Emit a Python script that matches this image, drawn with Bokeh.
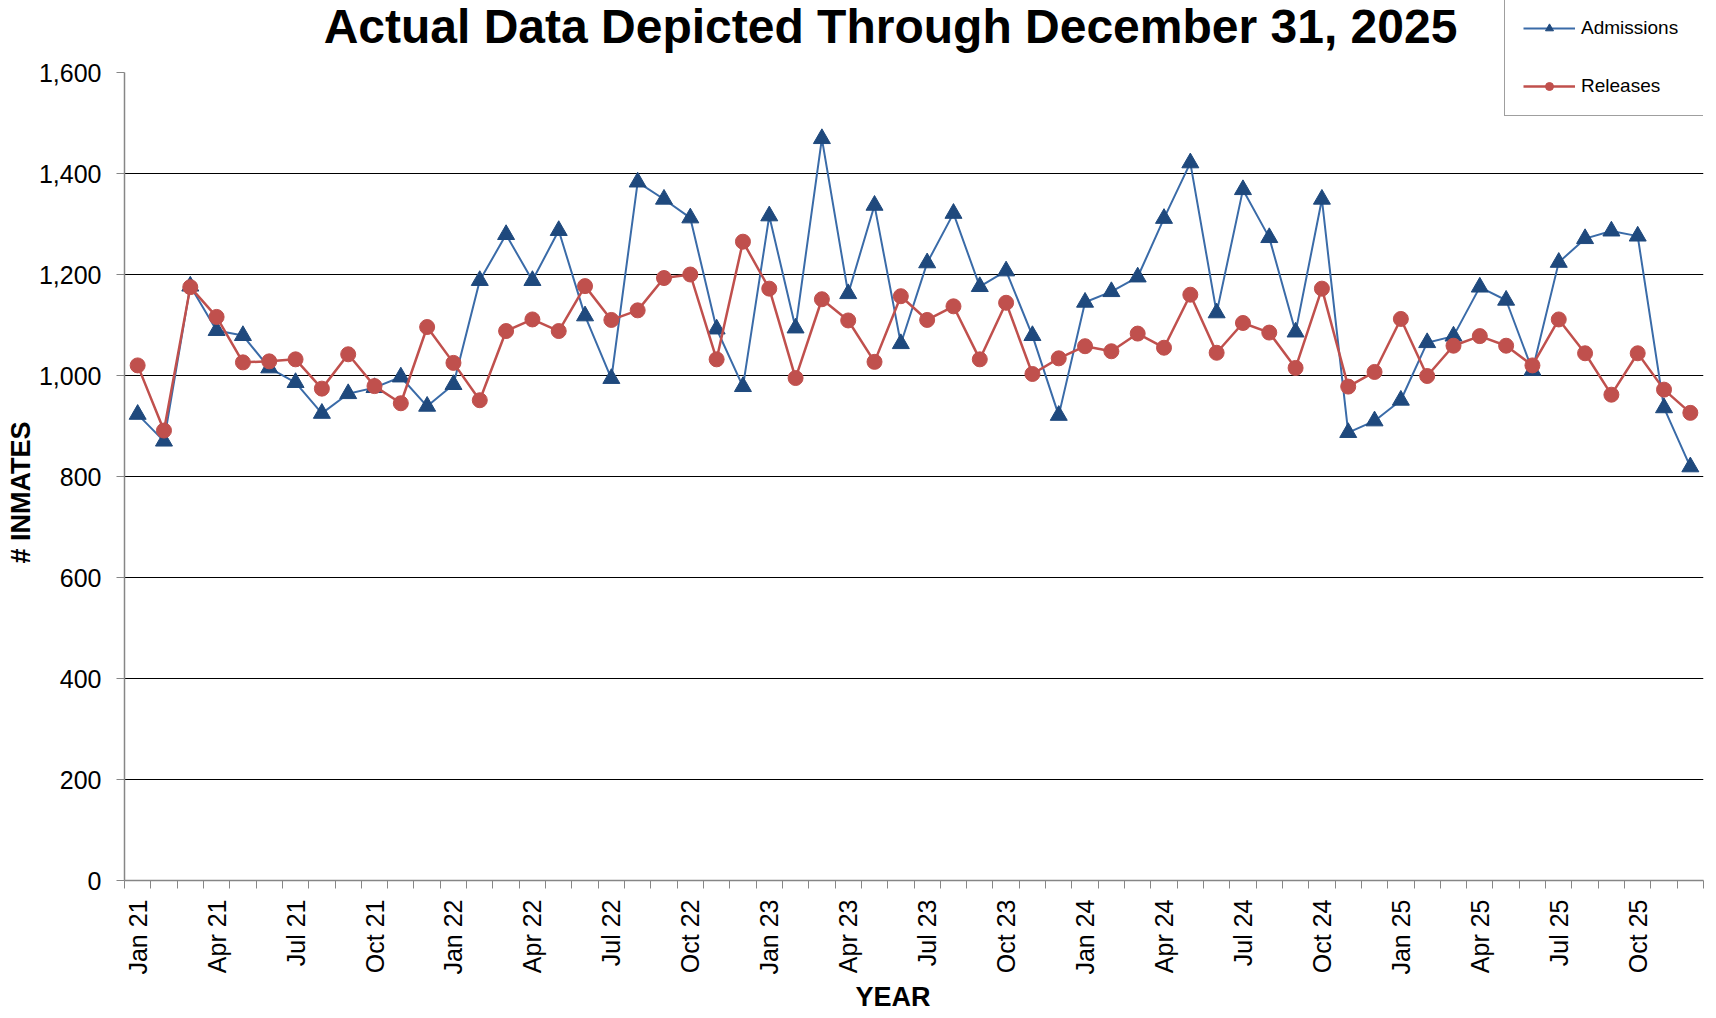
import math
from bokeh.plotting import figure
from bokeh.models import (FixedTicker, NumeralTickFormatter, Legend, LegendItem,
                          Range1d, ColumnDataSource, Label, Title)
from bokeh.embed import file_html
from bokeh.resources import INLINE

month_names = ["Jan", "Feb", "Mar", "Apr", "May", "Jun",
               "Jul", "Aug", "Sep", "Oct", "Nov", "Dec"]
years = ["21", "22", "23", "24", "25"]
months = [f"{m} {y}" for y in years for m in month_names]

admissions = [923, 870, 1177, 1089, 1079, 1015, 986, 925, 964, 976, 997, 939,
              982, 1188, 1279, 1188, 1287, 1118, 994, 1383, 1349, 1312, 1092, 978,
              1316, 1094, 1469, 1162, 1337, 1063, 1223, 1321, 1176, 1207, 1079, 921,
              1145, 1166, 1195, 1311, 1421, 1124, 1368, 1273, 1086, 1349, 887, 910,
              951, 1065, 1078, 1175, 1149, 1010, 1224, 1271, 1286, 1276, 936, 819]
releases = [1020, 891, 1175, 1116, 1026, 1028, 1032, 974, 1042, 979, 945, 1096,
            1025, 951, 1088, 1111, 1088, 1177, 1110, 1129, 1193, 1200, 1032, 1265,
            1172, 995, 1151, 1109, 1027, 1157, 1110, 1137, 1032, 1144, 1003, 1034,
            1058, 1048, 1083, 1055, 1160, 1045, 1104, 1085, 1015, 1172, 978, 1007,
            1112, 999, 1059, 1078, 1059, 1020, 1111, 1044, 962, 1044, 972, 926]

y_ticks = [0, 200, 400, 600, 800, 1000, 1200, 1400, 1600]
title_text = "Actual Data Depicted Through December 31, 2025"
x_title = "YEAR"
y_title = "# INMATES"

FONT = "Liberation Sans"
A_LINE = "#3A6BA8"
A_MARK = "#1F497D"
R_COL = "#C0504D"

W, H = 1716, 1018
BL, BR = 124, 13
FRAME_H = 880          # frame spans canvas y 0..880
TOP_GAP = 72           # pixels above the 1600 line inside the frame
BB = H - FRAME_H
y_top = y_ticks[-1] * FRAME_H / (FRAME_H - TOP_GAP)

idx = list(range(len(months)))
src = ColumnDataSource(dict(x=idx, adm=admissions, rel=releases, m=months))

p = figure(width=W, height=H, output_backend="svg", toolbar_location=None,
           x_range=Range1d(-0.5, len(months) - 0.5), y_range=Range1d(0, y_top),
           min_border_left=BL, min_border_right=BR, min_border_top=0,
           min_border_bottom=BB)
p.outline_line_color = None
p.background_fill_color = "white"
p.border_fill_color = "white"

la = p.line("x", "adm", source=src, line_color=A_LINE, line_width=2)
sa = p.scatter("x", "adm", source=src, marker="triangle", size=17,
               fill_color=A_MARK, line_color=A_MARK)
lr = p.line("x", "rel", source=src, line_color=R_COL, line_width=2.5)
sr = p.scatter("x", "rel", source=src, marker="circle", size=15,
               fill_color=R_COL, line_color=R_COL)

# y axis
yax = p.yaxis[0]
yax.bounds = (y_ticks[0], y_ticks[-1])
yax.ticker = FixedTicker(ticks=y_ticks)
yax.formatter = NumeralTickFormatter(format="0,0")
yax.axis_line_color = "#868686"
yax.axis_line_width = 1.5
yax.major_tick_line_color = "#868686"
yax.major_tick_out = 8
yax.major_tick_in = 0
yax.minor_tick_line_color = None
yax.major_label_text_font = FONT
yax.major_label_text_font_size = "25px"
yax.major_label_text_color = "black"
yax.major_label_standoff = 15

# x axis
xax = p.xaxis[0]
major = [i for i in idx if i % 3 == 0]
xax.ticker = FixedTicker(ticks=major, minor_ticks=[i - 0.5 for i in range(len(months) + 1)])
xax.major_label_overrides = {i: months[i] for i in major}
xax.major_label_orientation = math.pi / 2
xax.axis_line_color = "#868686"
xax.axis_line_width = 1.5
xax.major_tick_line_color = None
xax.major_tick_out = 0
xax.major_tick_in = 0
xax.minor_tick_line_color = "#868686"
xax.minor_tick_out = 8
xax.minor_tick_in = 0
xax.major_label_text_font = FONT
xax.major_label_text_font_size = "25px"
xax.major_label_text_color = "black"
xax.major_label_standoff = 11

p.xgrid.grid_line_color = None
p.ygrid.ticker = FixedTicker(ticks=[t for t in y_ticks if 0 < t < y_ticks[-1]])
p.ygrid.grid_line_color = "black"
p.ygrid.grid_line_width = 1

# axis titles in the side panels
p.add_layout(Title(text=y_title, align="right", offset=421, standoff=0,
                   vertical_align="bottom", text_font=FONT, text_font_size="27px",
                   text_font_style="bold", text_color="black"), "left")
p.add_layout(Title(text=x_title, align="left", offset=731, standoff=5,
                   vertical_align="bottom", text_font=FONT, text_font_size="27px",
                   text_font_style="bold", text_color="black"), "below")

# chart title, drawn inside the top band of the frame
p.add_layout(Label(x=890 - BL, y=FRAME_H - 26, x_units="screen", y_units="screen",
                   text=title_text, text_font=FONT, text_font_size="48px",
                   text_font_style="bold", text_color="black",
                   text_align="center", text_baseline="alphabetic"))

legend = Legend(items=[LegendItem(label="Admissions", renderers=[la, sa]),
                       LegendItem(label="Releases", renderers=[lr, sr])],
                location=(1504 - BL, FRAME_H - 116))
legend.label_text_font = FONT
legend.label_text_font_size = "19px"
legend.label_text_color = "black"
legend.glyph_width = 52
legend.glyph_height = 20
legend.label_height = 20
legend.label_width = 104
legend.label_standoff = 6
legend.padding = 18
legend.spacing = 36
legend.margin = 0
legend.border_line_color = "#404040"
legend.border_line_width = 1.5
legend.background_fill_color = "white"
legend.background_fill_alpha = 1
p.add_layout(legend)

open("out.html", "w").write(file_html(p, INLINE))
